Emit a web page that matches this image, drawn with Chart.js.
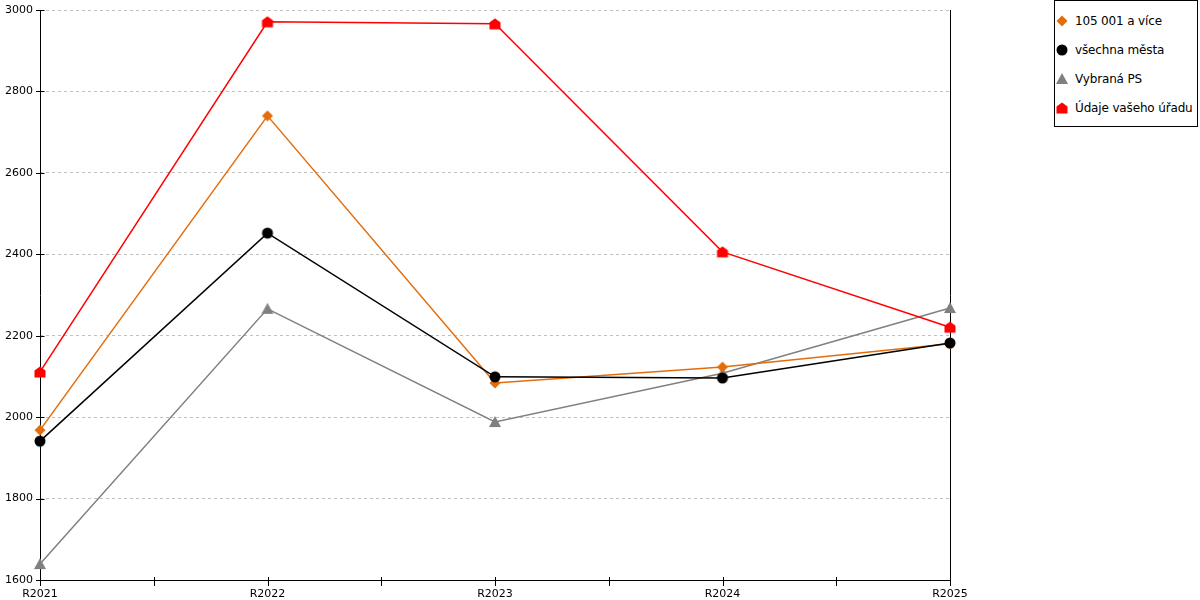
<!DOCTYPE html>
<html>
<head>
<meta charset="utf-8">
<script src="https://cdn.jsdelivr.net/npm/chart.js@4/dist/chart.umd.min.js"></script>
<style>
  html, body { margin: 0; padding: 0; background: #fff; overflow: hidden; }
  #wrap { position: relative; width: 1200px; height: 600px; }
  #chart { position: absolute; left: 0; top: 0; }
  #legend { position: absolute; left: 1054px; top: 0px; width: 144px; height: 127px;
            border: 1px solid #000; box-sizing: border-box; background: #fff;
            font-family: "DejaVu Sans", sans-serif; font-size: 12px; color: #000; }
  .item { position: absolute; left: 0; height: 16px; line-height: 16px; white-space: nowrap; letter-spacing: -0.15px; }
  .item canvas { position: absolute; }
  .item span { position: absolute; left: 20px; top: 0; }
</style>
</head>
<body>
<div id="wrap">
  <canvas id="chart" width="1200" height="600"></canvas>
  <div id="legend"></div>
</div>
<script>
const categories = ["R2021", "R2022", "R2023", "R2024", "R2025"];
const seriesNames = ["105 001 a více", "všechna města", "Vybraná PS", "Údaje vašeho úřadu"];
const values105 = [1968, 2740, 2084, 2123, 2180];
const valuesAll = [1941, 2452, 2099, 2096, 2182];
const valuesPS  = [1639, 2266, 1988, 2108, 2268];
const valuesOffice = [2111, 2971, 2966, 2406, 2221];
const yTicks = [1600, 1800, 2000, 2200, 2400, 2600, 2800, 3000];

function drawMarker(ctx, kind, color, cx, cy) {
  ctx.fillStyle = color;
  ctx.beginPath();
  if (kind === 'diamond') {
    ctx.moveTo(cx, cy - 5.5); ctx.lineTo(cx + 5.5, cy); ctx.lineTo(cx, cy + 5.5); ctx.lineTo(cx - 5.5, cy);
  } else if (kind === 'circle') {
    ctx.arc(cx, cy, 5.5, 0, Math.PI * 2);
  } else if (kind === 'triangle') {
    ctx.moveTo(cx, cy - 6); ctx.lineTo(cx + 6, cy + 5); ctx.lineTo(cx - 6, cy + 5);
  } else if (kind === 'house') {
    ctx.moveTo(cx, cy - 5.5); ctx.lineTo(cx + 5.5, cy - 1.5); ctx.lineTo(cx + 5.5, cy + 5.5);
    ctx.lineTo(cx - 5.5, cy + 5.5); ctx.lineTo(cx - 5.5, cy - 1.5);
  }
  ctx.closePath();
  ctx.fill();
}
function markerCanvas(kind, color) {
  const c = document.createElement('canvas');
  c.width = 14; c.height = 14;
  drawMarker(c.getContext('2d'), kind, color, 7, 7);
  return c;
}

const colors = ['#E46C0A', '#000000', '#808080', '#FF0000'];
const kinds = ['diamond', 'circle', 'triangle', 'house'];
const markers = kinds.map((k, i) => markerCanvas(k, colors[i]));
const seriesValues = [values105, valuesAll, valuesPS, valuesOffice];

const datasets = seriesValues.map((vals, i) => ({
  label: seriesNames[i],
  data: vals.map((v, j) => ({ x: j, y: v })),
  borderColor: colors[i],
  backgroundColor: colors[i],
  borderWidth: 1.5,
  pointStyle: markers[i],
  pointRadius: 6,
  pointHoverRadius: 6,
  tension: 0,
  fill: false,
  clip: false,
  order: [2, 1, 3, 0][i]
}));

function strokeFrame(chart) {
  const { ctx, chartArea } = chart;
  const xs = chart.scales.x, ys = chart.scales.y;
  ctx.save();
  ctx.strokeStyle = '#000';
  ctx.lineWidth = 1;
  ctx.setLineDash([]);
  const l = Math.round(chartArea.left) + 0.5;
  const r = Math.round(chartArea.right) + 0.5;
  const t = Math.round(chartArea.top);
  const b = Math.round(chartArea.bottom) + 0.5;
  ctx.beginPath();
  ctx.moveTo(l, t); ctx.lineTo(l, b + 0.5);
  ctx.moveTo(r, t); ctx.lineTo(r, b + 0.5);
  ctx.moveTo(l - 0.5, b); ctx.lineTo(r + 0.5, b);
  ys.ticks.forEach(tk => {
    const y = Math.round(ys.getPixelForValue(tk.value)) + 0.5;
    ctx.moveTo(l - 4.5, y); ctx.lineTo(l + 4, y);
  });
  xs.ticks.forEach(tk => {
    const x = Math.round(xs.getPixelForValue(tk.value)) + 0.5;
    ctx.moveTo(x, b - 3.5); ctx.lineTo(x, b + 5.5);
  });
  ctx.stroke();
  ctx.restore();
}

const frame = {
  id: 'frame',
  beforeDatasetsDraw(chart) { strokeFrame(chart); }
};

new Chart(document.getElementById('chart'), {
  type: 'line',
  data: { datasets },
  plugins: [frame],
  options: {
    responsive: false,
    animation: false,
    devicePixelRatio: 1,
    layout: { padding: { left: 0, right: 250, top: 10, bottom: 0 } },
    plugins: { legend: { display: false }, tooltip: { enabled: false } },
    scales: {
      x: {
        type: 'linear',
        min: 0, max: categories.length - 1,
        afterBuildTicks(scale) {
          const t = [];
          for (let v = 0; v <= categories.length - 1; v += 0.5) t.push({ value: v });
          scale.ticks = t;
        },
        afterFit(scale) { scale.height = 20; },
        ticks: {
          autoSkip: false, maxRotation: 0, padding: 3,
          color: '#000', font: { family: 'DejaVu Sans', size: 11 },
          callback: (v) => Number.isInteger(v) ? categories[v] : ''
        },
        grid: { drawOnChartArea: false, tickLength: 5, tickColor: 'rgba(0,0,0,0)', color: 'rgba(0,0,0,0)' },
        border: { display: false }
      },
      y: {
        min: yTicks[0], max: yTicks[yTicks.length - 1],
        afterBuildTicks(scale) { scale.ticks = yTicks.map(v => ({ value: v })); },
        afterFit(scale) { scale.width = 40; },
        ticks: { color: '#000', padding: 3, font: { family: 'DejaVu Sans', size: 11 },
                 callback: (v) => String(v) },
        grid: { color: '#c0c0c0', tickLength: 4, tickColor: 'rgba(0,0,0,0)', lineWidth: 1 },
        border: { display: false, dash: [3, 3] }
      }
    }
  }
});

const legend = document.getElementById('legend');
const rowTops = [12, 41, 70, 99];
seriesNames.forEach((name, i) => {
  const row = document.createElement('div');
  row.className = 'item';
  row.style.top = rowTops[i] + 'px';
  const c = markerCanvas(kinds[i], colors[i]);
  c.style.left = '0px';
  c.style.top = '1px';
  const s = document.createElement('span');
  s.textContent = name;
  row.appendChild(c);
  row.appendChild(s);
  legend.appendChild(row);
});
</script>
</body>
</html>
